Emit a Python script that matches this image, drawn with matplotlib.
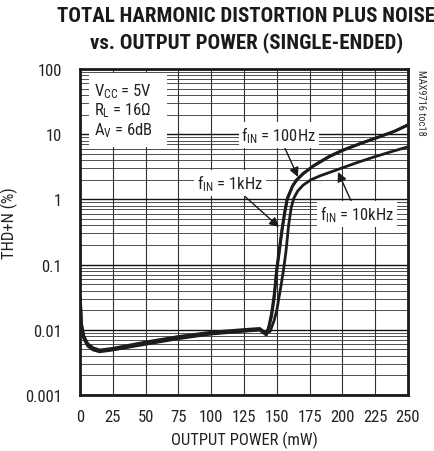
import matplotlib
matplotlib.use("Agg")
import matplotlib.pyplot as plt
from matplotlib import font_manager
from matplotlib.ticker import FixedLocator, NullFormatter, LogLocator

# pick a narrow font if one is installed
names = {f.name for f in font_manager.fontManager.ttflist}
narrow = None
for cand in ['Liberation Sans Narrow', 'Roboto Condensed', 'Open Sans Condensed',
             'DejaVu Sans Condensed']:
    if cand in names:
        narrow = cand
        break
condensed_dejavu = any(f.name == 'DejaVu Sans' and 'condensed' in str(f.stretch)
                       for f in font_manager.fontManager.ttflist)
if narrow is None:
    narrow = 'DejaVu Sans'
    plt.rcParams['font.stretch'] = 'condensed'
FONT = [narrow, 'DejaVu Sans']
plt.rcParams['font.family'] = FONT
plt.rcParams['mathtext.fontset'] = 'custom'
plt.rcParams['mathtext.rm'] = narrow
plt.rcParams['mathtext.it'] = narrow
is_narrow = (narrow != 'DejaVu Sans') or condensed_dejavu
fs = 12.0 if is_narrow else 9.5
tfs = 15.0 if is_narrow else 11.5

# ---- data ----
p_100 = [0.3, 1, 3, 6, 10, 15, 25, 50, 75, 100, 125, 137, 142, 144, 146, 148, 150,
         152, 154, 156, 158, 162, 165, 170, 178, 190, 200, 215, 229, 240, 250]
thd_100 = [0.03, 0.012, 0.0075, 0.0058, 0.005, 0.0047, 0.005, 0.0062, 0.0075, 0.0088,
           0.0097, 0.0101, 0.0085, 0.011, 0.016, 0.03, 0.08, 0.16, 0.33, 0.6, 1.0,
           1.6, 2.0, 2.5, 3.3, 4.6, 5.7, 7.4, 9.3, 11.2, 14.0]

p_1k = [0.3, 1, 3, 6, 10, 15, 25, 50, 75, 100, 125, 137, 142, 144, 146, 148, 150,
        152, 154, 156, 158, 162, 165, 170, 178, 190, 200, 215, 229, 240, 250]
thd_1k = [0.028, 0.011, 0.0072, 0.0056, 0.0049, 0.0046, 0.0049, 0.006, 0.0073, 0.0086,
          0.0095, 0.0099, 0.0083, 0.0115, 0.018, 0.035, 0.09, 0.18, 0.36, 0.65, 1.05,
          1.6, 1.95, 2.45, 3.25, 4.5, 5.6, 7.3, 9.2, 11.1, 13.8]

p_10k = [0.3, 1, 3, 6, 10, 15, 25, 50, 75, 100, 125, 137, 142, 145, 148, 150, 153,
         155, 157, 159, 161, 163, 166, 170, 176, 183, 197, 210, 223, 236, 250]
thd_10k = [0.032, 0.013, 0.008, 0.0061, 0.0053, 0.0049, 0.0052, 0.0065, 0.0079, 0.0092,
           0.0101, 0.0105, 0.0088, 0.0095, 0.014, 0.02, 0.045, 0.08, 0.16, 0.4, 0.75,
           1.05, 1.35, 1.65, 2.0, 2.3, 2.9, 3.6, 4.4, 5.3, 6.4]

x_ticks = [0, 25, 50, 75, 100, 125, 150, 175, 200, 225, 250]
y_ticks = [0.001, 0.01, 0.1, 1, 10, 100]
y_ticklabels = ['0.001', '0.01', '0.1', '1', '10', '100']

title = "TOTAL HARMONIC DISTORTION PLUS NOISE\nvs. OUTPUT POWER (SINGLE-ENDED)"
xlabel = "OUTPUT POWER (mW)"
ylabel = "THD+N (%)"

# ---- figure ----
fig = plt.figure(figsize=(4.35, 4.52), dpi=100)
ax = fig.add_axes([80/435, 1 - 396/452, 328/435, 326/452])

ax.set_xlim(0, 250)
ax.set_yscale('log')
ax.set_ylim(0.001, 100)

ax.xaxis.set_major_locator(FixedLocator(x_ticks))
ax.set_xticklabels([str(v) for v in x_ticks])
ax.yaxis.set_major_locator(FixedLocator(y_ticks))
ax.set_yticklabels(y_ticklabels)
ax.yaxis.set_minor_locator(LogLocator(base=10, subs=range(2, 10), numticks=20))
ax.yaxis.set_minor_formatter(NullFormatter())
ax.tick_params(axis='both', which='both', length=0, labelsize=fs, colors='#222222')
ax.tick_params(axis='x', pad=10)
ax.tick_params(axis='y', pad=13)

ax.grid(True, which='major', axis='x', color='#333333', lw=0.8)
ax.grid(True, which='major', axis='y', color='#111111', lw=1.0)
ax.grid(True, which='minor', axis='y', color='#333333', lw=0.6)
ax.set_axisbelow(True)
for s in ax.spines.values():
    s.set_linewidth(2.0)
    s.set_color('#1a1a1a')

lc = '#1c1c1c'
ax.plot(p_100, thd_100, color=lc, lw=2.0, zorder=3)
ax.plot(p_1k, thd_1k, color=lc, lw=2.0, zorder=3)
ax.plot(p_10k, thd_10k, color=lc, lw=2.0, zorder=3)

ax.set_xlabel(xlabel, fontsize=fs, labelpad=5, color='#222222')
ax.set_ylabel(ylabel, fontsize=fs, color='#222222')
ax.yaxis.set_label_coords(-(80 - 18) / 328, (396 - 223) / 326)

fig.text(0.566, 0.985, title, ha='center', va='top', fontsize=tfs,
         fontweight='bold', linespacing=1.4, color='#1a1a1a')

def ax_pt(px, py):
    return ((px - 80) / 328, (396 - py) / 326)

ax.add_patch(plt.Rectangle(ax_pt(89, 148), 78/328, 74/326, transform=ax.transAxes,
                           facecolor='white', edgecolor='none', zorder=2))
for txt, py in [(r'V$_{\mathrm{CC}}$ = 5V', 92), (r'R$_{\mathrm{L}}$ = 16$\Omega$', 111),
                (r'A$_{\mathrm{V}}$ = 6dB', 131)]:
    ax.text(*ax_pt(94, py), txt, transform=ax.transAxes, fontsize=fs, va='center',
            ha='left', zorder=4, color='#222222')

bbox = dict(facecolor='white', edgecolor='none', pad=2)
arrow = dict(arrowstyle='-|>', color='#1a1a1a', lw=1.0, mutation_scale=14, shrinkA=0, shrinkB=0)

ax.annotate(r'f$_{\mathrm{IN}}$ = 100Hz', xy=ax_pt(298, 178), xytext=ax_pt(279, 136),
            xycoords='axes fraction', textcoords='axes fraction', ha='center', va='center',
            fontsize=fs, bbox=bbox, arrowprops=arrow, zorder=5, color='#222222')
ax.annotate(r'f$_{\mathrm{IN}}$ = 1kHz', xy=ax_pt(279, 228), xytext=ax_pt(230, 184),
            xycoords='axes fraction', textcoords='axes fraction', ha='center', va='center',
            fontsize=fs, bbox=bbox, arrowprops=arrow, zorder=5, color='#222222')
ax.annotate(r'f$_{\mathrm{IN}}$ = 10kHz', xy=ax_pt(338, 173), xytext=ax_pt(357, 215),
            xycoords='axes fraction', textcoords='axes fraction', ha='center', va='center',
            fontsize=fs, bbox=bbox, arrowprops=arrow, zorder=5, color='#222222')

fig.text(421/435, 1 - 70/452, 'MAX9716 toc18', rotation=270, ha='center', va='top',
         fontsize=7.5, color='#333333')

fig.savefig('out.png', dpi=100)
